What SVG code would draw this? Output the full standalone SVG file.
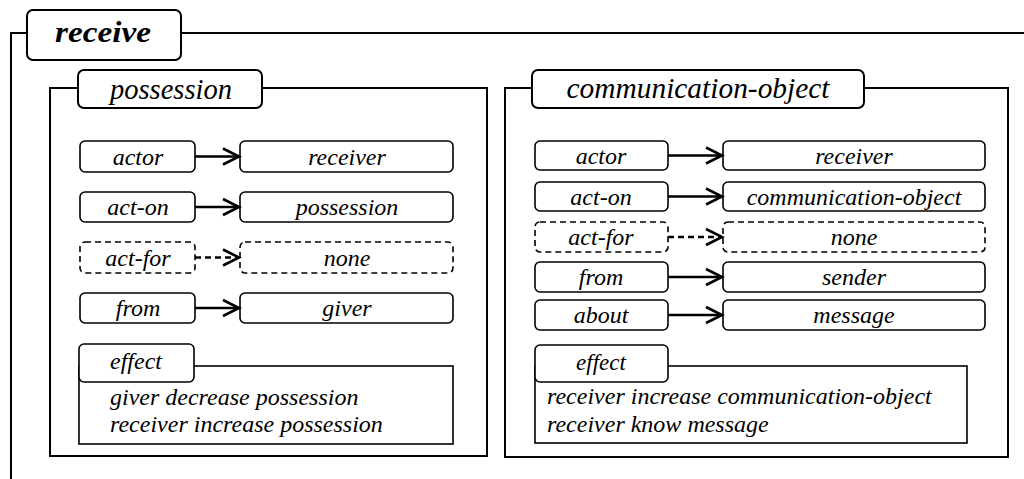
<svg xmlns="http://www.w3.org/2000/svg" width="1024" height="479" viewBox="0 0 1024 479">
<style>
text{font-family:'Liberation Serif','Times New Roman',serif;font-style:italic;fill:#000}
.t{font-size:24px;text-anchor:middle}
.e{font-size:24px}
.ttl{font-size:29px;text-anchor:middle}
.frame{fill:none;stroke:#000;stroke-width:2}
.tab{fill:#fff;stroke:#000;stroke-width:2}
.box{fill:#fff;stroke:#000;stroke-width:1.6}
.dbox{fill:#fff;stroke:#000;stroke-width:1.6;stroke-dasharray:6 4}
.ln{stroke:#000;stroke-width:2.4;fill:none}
.dln{stroke:#000;stroke-width:2.4;fill:none;stroke-dasharray:6 4}
.hd{stroke:#000;stroke-width:2.6;fill:none;stroke-linejoin:miter}
</style>
<rect width="1024" height="479" fill="#fff"/>
<g id="receive">
<path class="frame" d="M11,479 V33 H1026"/>
<rect class="tab" x="27" y="10" width="154" height="50" rx="6"/>
<text x="103" y="42" font-size="30" font-weight="bold" text-anchor="middle" textLength="96" lengthAdjust="spacingAndGlyphs">receive</text>
</g>
<g id="possession">
<rect class="frame" x="50" y="88" width="437" height="368"/>
<rect class="tab" x="78" y="70" width="184" height="38" rx="6"/>
<text class="ttl" x="171" y="99" textLength="122" lengthAdjust="spacingAndGlyphs">possession</text>
</g>
<g id="p-actor"><rect class="box" x="80" y="141" width="115" height="31" rx="5"/><text class="t" x="138" y="165">actor</text></g>
<g id="p-receiver"><rect class="box" x="240" y="141" width="213" height="31" rx="5"/><text class="t" x="347" y="165">receiver</text></g>
<g id="p-act-on"><rect class="box" x="80" y="192" width="115" height="30" rx="5"/><text class="t" x="138" y="215">act-on</text></g>
<g id="p-possession"><rect class="box" x="240" y="192" width="213" height="30" rx="5"/><text class="t" x="347" y="215">possession</text></g>
<g id="p-act-for"><rect class="dbox" x="80" y="242" width="115" height="31" rx="5"/><text class="t" x="138" y="266">act-for</text></g>
<g id="p-none"><rect class="dbox" x="240" y="242" width="213" height="31" rx="5"/><text class="t" x="347" y="266">none</text></g>
<g id="p-from"><rect class="box" x="80" y="293" width="115" height="30" rx="5"/><text class="t" x="138" y="316">from</text></g>
<g id="p-giver"><rect class="box" x="240" y="293" width="213" height="30" rx="5"/><text class="t" x="347" y="316">giver</text></g>
<g id="p-effect">
<rect class="box" x="79" y="366" width="374" height="78"/>
<rect class="box" x="79" y="344" width="115" height="38" rx="5"/>
<text class="e" x="110" y="369" font-size="23">effect</text>
<text class="e" x="110" y="405">giver decrease possession</text>
<text class="e" x="110" y="432">receiver increase possession</text>
</g>
<g id="communication-object">
<rect class="frame" x="505" y="88" width="503" height="369"/>
<rect class="tab" x="532" y="70" width="332" height="38" rx="6"/>
<text class="ttl" x="698" y="98" textLength="263" lengthAdjust="spacingAndGlyphs">communication-object</text>
</g>
<g id="c-actor"><rect class="box" x="535" y="141" width="133" height="29" rx="5"/><text class="t" x="601" y="164">actor</text></g>
<g id="c-receiver"><rect class="box" x="723" y="141" width="262" height="29" rx="5"/><text class="t" x="854" y="164">receiver</text></g>
<g id="c-act-on"><rect class="box" x="535" y="182" width="133" height="29" rx="5"/><text class="t" x="601" y="205">act-on</text></g>
<g id="c-communication-object"><rect class="box" x="723" y="182" width="262" height="29" rx="5"/><text class="t" x="854" y="205">communication-object</text></g>
<g id="c-act-for"><rect class="dbox" x="535" y="222" width="133" height="30" rx="5"/><text class="t" x="601" y="245">act-for</text></g>
<g id="c-none"><rect class="dbox" x="723" y="222" width="262" height="30" rx="5"/><text class="t" x="854" y="245">none</text></g>
<g id="c-from"><rect class="box" x="535" y="262" width="133" height="30" rx="5"/><text class="t" x="601" y="285">from</text></g>
<g id="c-sender"><rect class="box" x="723" y="262" width="262" height="30" rx="5"/><text class="t" x="854" y="285">sender</text></g>
<g id="c-about"><rect class="box" x="535" y="300" width="133" height="30" rx="5"/><text class="t" x="601" y="323">about</text></g>
<g id="c-message"><rect class="box" x="723" y="300" width="262" height="30" rx="5"/><text class="t" x="854" y="323">message</text></g>
<g id="c-effect">
<rect class="box" x="535" y="366" width="432" height="77"/>
<rect class="box" x="535" y="345" width="133" height="37" rx="5"/>
<text x="601" y="370" font-size="23" text-anchor="middle">effect</text>
<text class="e" x="547" y="404">receiver increase communication-object</text>
<text class="e" x="547" y="432">receiver know message</text>
</g>
<g id="connectors">
<path class="ln" d="M195,156.5 H238"/><path class="hd" d="M223,148.5 L239,156.5 L223,164.5"/>
<path class="ln" d="M195,207 H238"/><path class="hd" d="M223,199 L239,207 L223,215"/>
<path class="dln" d="M195,257.5 H236"/><path class="hd" d="M223,249.5 L239,257.5 L223,265.5"/>
<path class="ln" d="M195,308 H238"/><path class="hd" d="M223,300 L239,308 L223,316"/>
<path class="ln" d="M668,155.5 H721"/><path class="hd" d="M706,147.5 L722,155.5 L706,163.5"/>
<path class="ln" d="M668,196.5 H721"/><path class="hd" d="M706,188.5 L722,196.5 L706,204.5"/>
<path class="dln" d="M668,237 H719"/><path class="hd" d="M706,229 L722,237 L706,245"/>
<path class="ln" d="M668,277 H721"/><path class="hd" d="M706,269 L722,277 L706,285"/>
<path class="ln" d="M668,315 H721"/><path class="hd" d="M706,307 L722,315 L706,323"/>
</g>
</svg>
